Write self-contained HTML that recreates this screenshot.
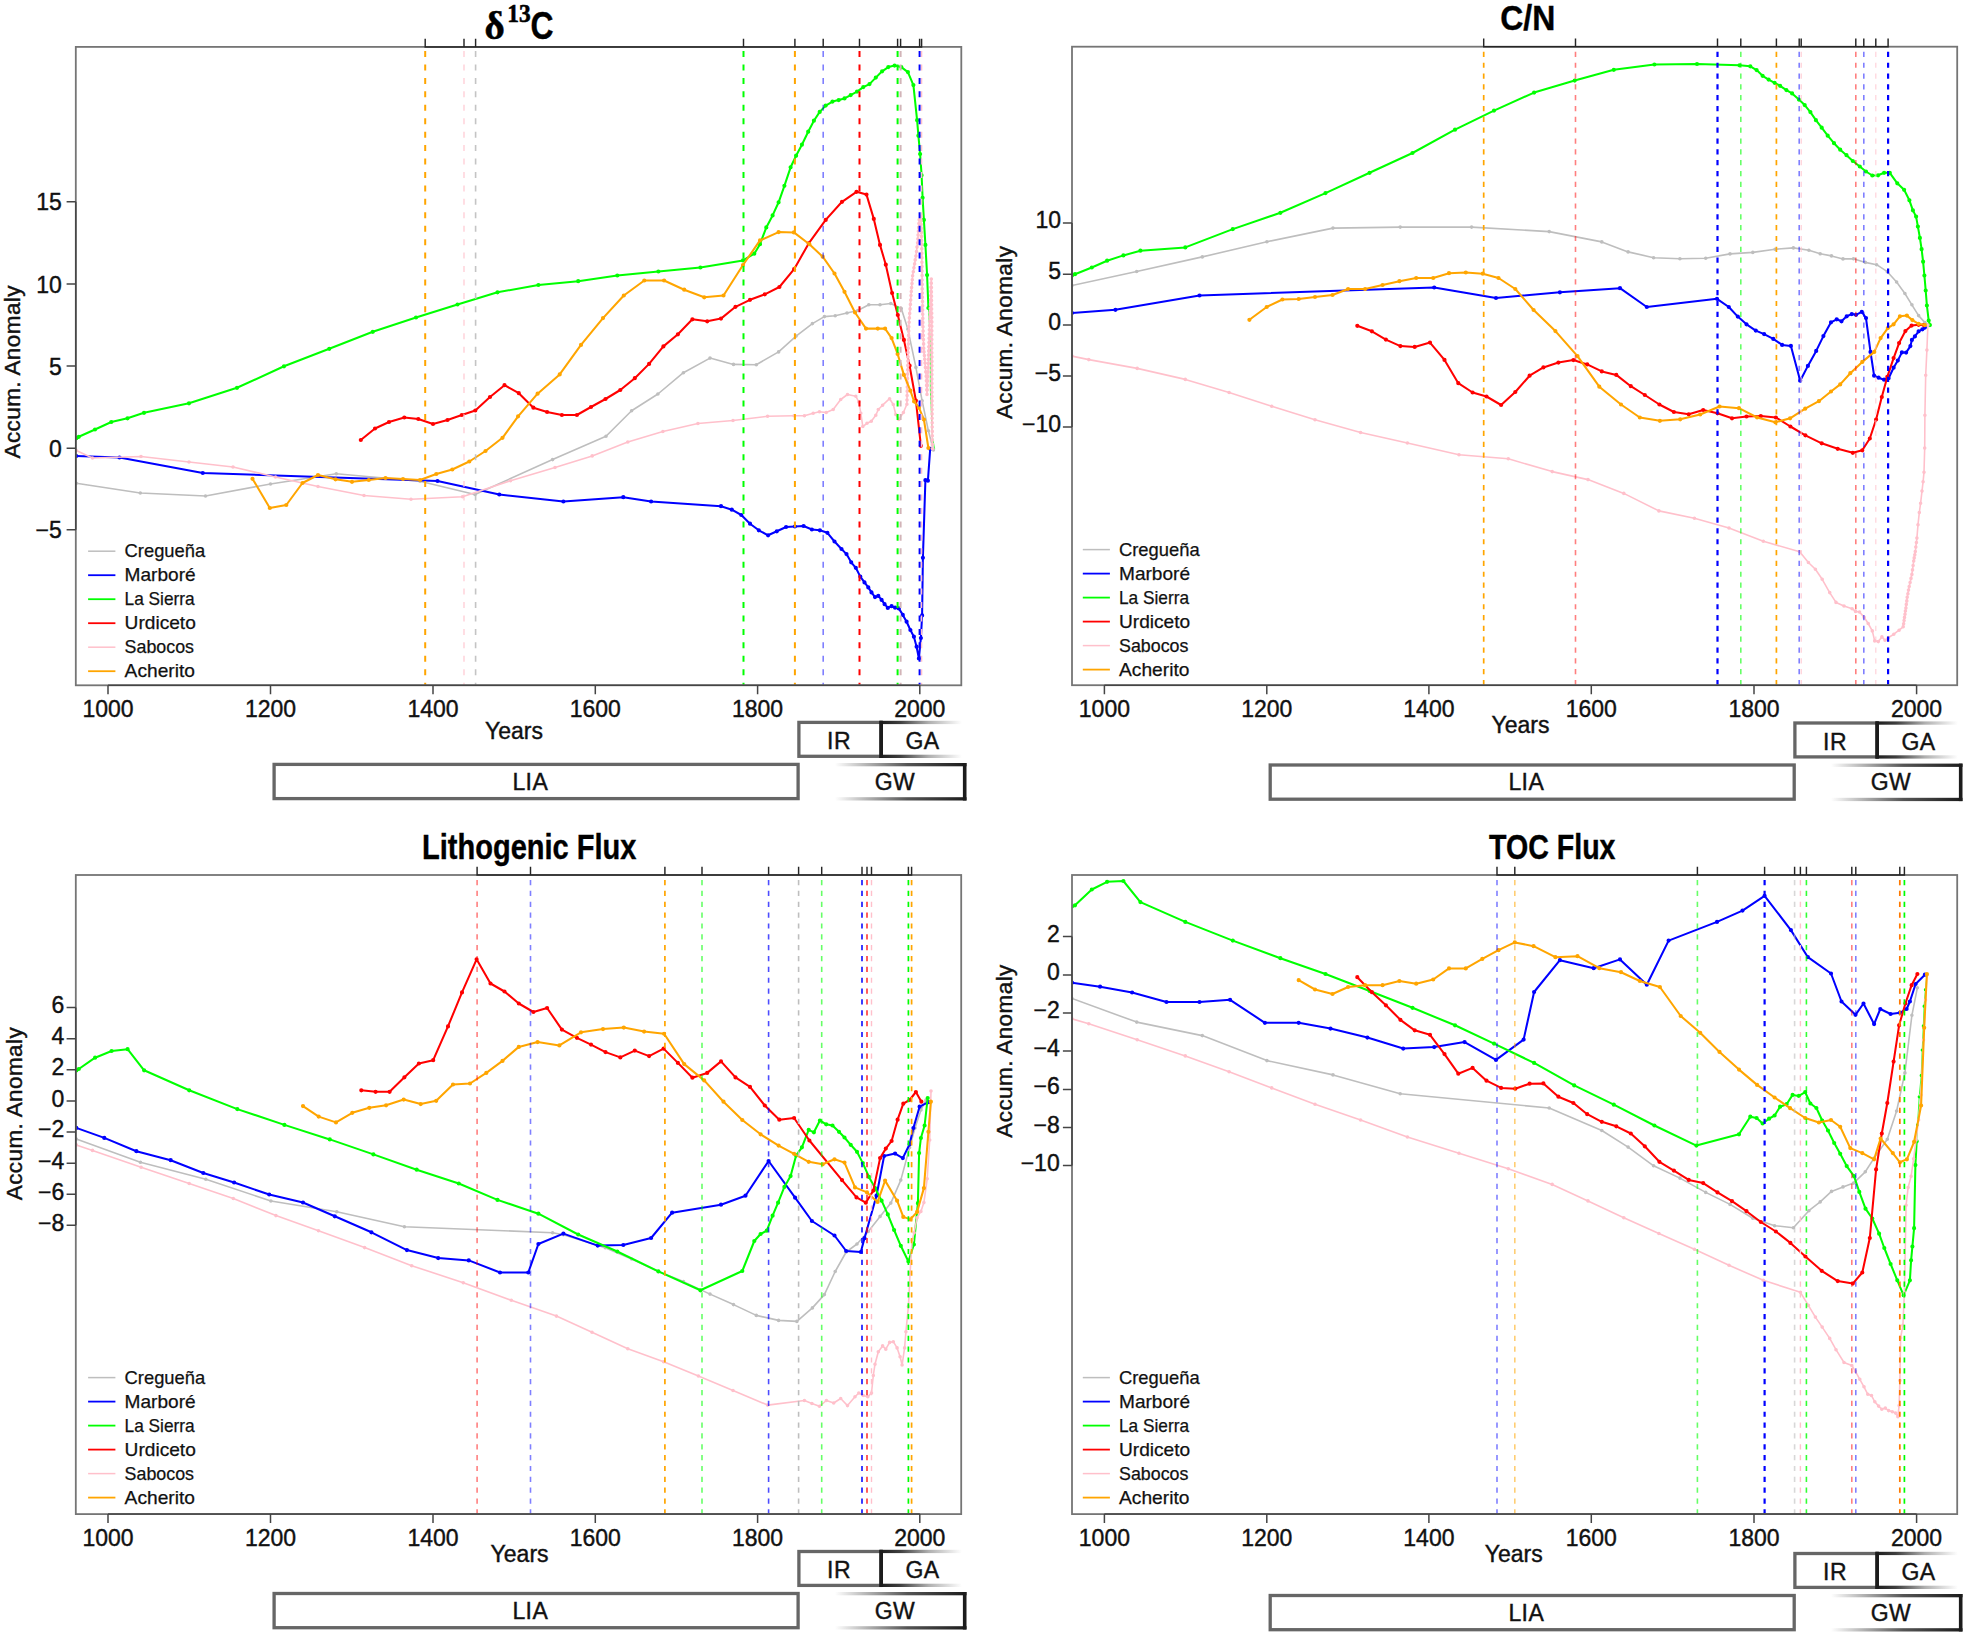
<!DOCTYPE html>
<html lang="en"><head><meta charset="utf-8"><title>Accumulated anomalies</title>
<style>html,body{margin:0;padding:0;background:#fff}svg{display:block}</style></head><body>
<svg width="1966" height="1637" viewBox="0 0 1966 1637">
<defs><linearGradient id="gr" x1="0" y1="0" x2="1" y2="0"><stop offset="0" stop-color="#1c1c1c"/><stop offset="0.25" stop-color="#1c1c1c" stop-opacity="0.85"/><stop offset="0.6" stop-color="#1c1c1c" stop-opacity="0.35"/><stop offset="1" stop-color="#1c1c1c" stop-opacity="0"/></linearGradient>
<linearGradient id="gl" x1="0" y1="0" x2="1" y2="0"><stop offset="0" stop-color="#1c1c1c" stop-opacity="0"/><stop offset="0.55" stop-color="#1c1c1c" stop-opacity="0.75"/><stop offset="1" stop-color="#1c1c1c"/></linearGradient></defs>
<rect width="1966" height="1637" fill="#fff"/>
<g id="p1">
<clipPath id="c1"><rect x="75.8" y="46.9" width="885.5" height="638.4"/></clipPath>
<g clip-path="url(#c1)" fill="none" stroke-linejoin="round" stroke-linecap="round">
<polyline points="928.4,308 930.3,342 930.3,389 932.4,437 934.6,448.5" stroke="#00ff00" stroke-width="0.9" stroke-opacity="0.8"/>
<polyline points="76.3,483.3 140.3,493 205.5,496 270.5,484 336.3,473.8 420,481.3 475,494.5 552.6,459.6 606,436.3 631.6,410.7 657.9,394 683.4,372.7 710,358.1 733.5,364.4 756.3,364.7 778.6,351.9 796.1,336.1 812.4,323.6 824.4,316.6 835.2,315.8 847,313 857.8,310.5 868.8,304.8 880,304.8 890.8,303.5 901.3,308.5 907.9,329.3 915.9,367.4 922.1,400.7 928.4,430.8 933.4,450" stroke="#bebebe" stroke-width="1.6"/>
<path d="M76.3 483.3h0M140.3 493h0M205.5 496h0M270.5 484h0M336.3 473.8h0M420 481.3h0M475 494.5h0M552.6 459.6h0M606 436.3h0M631.6 410.7h0M657.9 394h0M683.4 372.7h0M710 358.1h0M733.5 364.4h0M756.3 364.7h0M778.6 351.9h0M796.1 336.1h0M812.4 323.6h0M824.4 316.6h0M835.2 315.8h0M847 313h0M857.8 310.5h0M868.8 304.8h0M880 304.8h0M890.8 303.5h0M901.3 308.5h0M907.9 329.3h0M915.9 367.4h0M922.1 400.7h0M928.4 430.8h0M933.4 450h0" stroke="#bebebe" stroke-width="3.6"/>
<polyline points="76.3,456 119.5,457.5 202.8,473 437.5,481 499.3,494.5 563.4,501.5 623.3,497.2 651.1,501.5 721,506.2 731.8,509.7 741.3,515 750,523.7 758.8,530.3 768.1,535.3 776.8,531.3 786.1,527 794.9,526.5 803.6,526 811.9,529.5 819.9,530.3 827.4,532.8 834.5,541.5 841.5,549 846.5,554.1 851.2,562.3 855.8,567.8 860.3,576.6 864.5,582.4 868.3,587.4 871.5,592.4 875,597.1 878.3,595.9 881.6,599.9 884.6,604.2 887.8,607.9 891.6,606.2 895.1,607.7 898.8,608.4 902.8,614.9 906.6,621.7 910.4,630 913.9,636.7 916.6,646.7 918.9,658.5 920.9,638 922.1,615.4 922.9,557.8 925.4,480.2 927.9,480.7 930.2,448.8" stroke="#0000ff" stroke-width="2.05"/>
<path d="M76.3 456h0M119.5 457.5h0M202.8 473h0M437.5 481h0M499.3 494.5h0M563.4 501.5h0M623.3 497.2h0M651.1 501.5h0M721 506.2h0M731.8 509.7h0M741.3 515h0M750 523.7h0M758.8 530.3h0M768.1 535.3h0M776.8 531.3h0M786.1 527h0M794.9 526.5h0M803.6 526h0M811.9 529.5h0M819.9 530.3h0M827.4 532.8h0M834.5 541.5h0M841.5 549h0M846.5 554.1h0M851.2 562.3h0M855.8 567.8h0M860.3 576.6h0M864.5 582.4h0M868.3 587.4h0M871.5 592.4h0M875 597.1h0M878.3 595.9h0M881.6 599.9h0M884.6 604.2h0M887.8 607.9h0M891.6 606.2h0M895.1 607.7h0M898.8 608.4h0M902.8 614.9h0M906.6 621.7h0M910.4 630h0M913.9 636.7h0M916.6 646.7h0M918.9 658.5h0M920.9 638h0M922.1 615.4h0M922.9 557.8h0M925.4 480.2h0M927.9 480.7h0M930.2 448.8h0" stroke="#0000ff" stroke-width="4.2"/>
<polyline points="76.3,438.2 78.8,436.8 95,429.5 111.3,422 127.5,418.3 144,412.8 189,403.3 237,387.8 284,366.3 329.3,348.8 372.8,331.8 416,317.5 457.5,304.5 497.5,292.3 538.4,285 578.2,281.2 617.3,275.5 658.4,271.5 700.4,267.5 743,260.4 754.3,253.7 760,244.2 766.3,227.4 772.6,215.4 778.6,202.3 784.4,185.8 790.6,167.3 796.1,155.7 801.9,144.7 808.2,131.7 813.9,120.7 819.7,111.9 825.7,105.6 832.5,101.6 838.7,100.1 844.5,98.4 850.7,95.1 857,91.6 863.3,87.1 869.5,84.1 875.8,77.6 882.1,71.3 888.3,67.1 894.6,65.6 901.3,67.1 907.9,72.1 913.4,85.1 917.1,120.2 918.4,135.7 920.1,154 921.6,175.3 922.6,197.8 923.9,219.9 925.4,244.9 927.1,275 928.4,308" stroke="#00ff00" stroke-width="2.05"/>
<path d="M76.3 438.2h0M78.8 436.8h0M95 429.5h0M111.3 422h0M127.5 418.3h0M144 412.8h0M189 403.3h0M237 387.8h0M284 366.3h0M329.3 348.8h0M372.8 331.8h0M416 317.5h0M457.5 304.5h0M497.5 292.3h0M538.4 285h0M578.2 281.2h0M617.3 275.5h0M658.4 271.5h0M700.4 267.5h0M743 260.4h0M754.3 253.7h0M760 244.2h0M766.3 227.4h0M772.6 215.4h0M778.6 202.3h0M784.4 185.8h0M790.6 167.3h0M796.1 155.7h0M801.9 144.7h0M808.2 131.7h0M813.9 120.7h0M819.7 111.9h0M825.7 105.6h0M832.5 101.6h0M838.7 100.1h0M844.5 98.4h0M850.7 95.1h0M857 91.6h0M863.3 87.1h0M869.5 84.1h0M875.8 77.6h0M882.1 71.3h0M888.3 67.1h0M894.6 65.6h0M901.3 67.1h0M907.9 72.1h0M913.4 85.1h0M917.1 120.2h0M918.4 135.7h0M920.1 154h0M921.6 175.3h0M922.6 197.8h0M923.9 219.9h0M925.4 244.9h0M927.1 275h0M928.4 308h0" stroke="#00ff00" stroke-width="4.2"/>
<polyline points="360.8,440 375,428.5 389,422 404.3,417.5 418.3,419 433,424 447.5,420 461.8,415 475.3,410.5 490,397 504.5,385.2 518.8,393.2 533.4,407.7 547.1,412 561.9,415 576.9,415 591,407 605.5,399 620.3,390 634.8,378.2 649.1,363.9 663.4,346.4 677.9,334.3 692.4,319.3 707.2,321.3 721,318.6 735.5,306.8 750,299.8 764.8,294.3 779.4,287 794.1,269.2 808.7,243.4 825.7,219.9 842,201.8 856.5,191.8 866.5,194.6 873.8,218.9 880,244.9 885.8,264.7 892.1,293 897.8,315 903.9,339.9 909.6,365.7 915.9,400.7 920.9,445.8" stroke="#ff0000" stroke-width="2.05"/>
<path d="M360.8 440h0M375 428.5h0M389 422h0M404.3 417.5h0M418.3 419h0M433 424h0M447.5 420h0M461.8 415h0M475.3 410.5h0M490 397h0M504.5 385.2h0M518.8 393.2h0M533.4 407.7h0M547.1 412h0M561.9 415h0M576.9 415h0M591 407h0M605.5 399h0M620.3 390h0M634.8 378.2h0M649.1 363.9h0M663.4 346.4h0M677.9 334.3h0M692.4 319.3h0M707.2 321.3h0M721 318.6h0M735.5 306.8h0M750 299.8h0M764.8 294.3h0M779.4 287h0M794.1 269.2h0M808.7 243.4h0M825.7 219.9h0M842 201.8h0M856.5 191.8h0M866.5 194.6h0M873.8 218.9h0M880 244.9h0M885.8 264.7h0M892.1 293h0M897.8 315h0M903.9 339.9h0M909.6 365.7h0M915.9 400.7h0M920.9 445.8h0" stroke="#ff0000" stroke-width="4.2"/>
<polyline points="76.3,450.5 92.5,458 141,456.5 189,462 233,467 275.5,477 318,486.5 364,495.5 411,499.3 462.5,496.8 510.5,480.8 555,467.5 592.2,455.9 627.8,442 662.9,431.5 697.9,423.5 733,420.5 767.6,416.3 794.1,415.8 804.4,415.8 813.2,413.2 819.4,411.7 826.2,412.5 833.2,409.5 840.7,399.5 847.5,394.5 855.8,396.2 858.8,402 860.8,413.2 862.8,426.5 867,423.3 871.3,421.3 875.8,415.3 878.3,409.5 882.6,405.2 889.6,398.7 893.3,404.5 895.8,414.5 898.8,419.5 903.4,412.5 906.9,404.3 907.7,369.7 908.8,326.8 911,295.5 912.6,275.7 915.9,256 917.6,242.7 919.2,219.7 920.9,216.4 921.7,244.4 922.2,288.9 923,326.8 923.7,348.2 925,363 926.2,376.3 927,394.4 928,372 929.1,338.3 930.8,295.5 931.3,279 931.8,321.9 931.9,387.8 932.4,448.8" stroke="#ffc0cb" stroke-width="1.6"/>
<path d="M76.3 450.5h0M92.5 458h0M141 456.5h0M189 462h0M233 467h0M275.5 477h0M318 486.5h0M364 495.5h0M411 499.3h0M462.5 496.8h0M510.5 480.8h0M555 467.5h0M592.2 455.9h0M627.8 442h0M662.9 431.5h0M697.9 423.5h0M733 420.5h0M767.6 416.3h0M794.1 415.8h0M804.4 415.8h0M813.2 413.2h0M819.4 411.7h0M826.2 412.5h0M833.2 409.5h0M840.7 399.5h0M847.5 394.5h0M855.8 396.2h0M858.8 402h0M860.8 413.2h0M862.8 426.5h0M867 423.3h0M871.3 421.3h0M875.8 415.3h0M878.3 409.5h0M882.6 405.2h0M889.6 398.7h0M893.3 404.5h0M895.8 414.5h0M898.8 419.5h0M903.4 412.5h0M906.9 404.3h0M907 400h0M907.1 395.6h0M907.2 391.3h0M907.3 387h0M907.4 382.7h0M907.5 378.4h0M907.6 374h0M907.7 369.7h0M907.8 365.4h0M907.9 361.1h0M908 356.8h0M908.1 352.5h0M908.2 348.2h0M908.4 344h0M908.5 339.7h0M908.6 335.4h0M908.7 331.1h0M908.8 326.8h0M909.1 322.3h0M909.4 317.9h0M909.7 313.4h0M910.1 308.9h0M910.4 304.4h0M910.7 300h0M911 295.5h0M911.3 291.5h0M911.6 287.6h0M912 283.6h0M912.3 279.7h0M912.6 275.7h0M913.3 271.8h0M913.9 267.8h0M914.6 263.9h0M915.2 259.9h0M915.9 256h0M916.5 251.6h0M917 247.1h0M917.6 242.7h0M917.9 238.9h0M918.1 235h0M918.4 231.2h0M918.7 227.4h0M918.9 223.5h0M919.2 219.7h0M920.9 216.4h0M921 220.4h0M921.1 224.4h0M921.2 228.4h0M921.4 232.4h0M921.5 236.4h0M921.6 240.4h0M921.7 244.4h0M921.8 248.8h0M921.8 253.3h0M921.9 257.8h0M921.9 262.2h0M922 266.6h0M922 271.1h0M922.1 275.5h0M922.1 280h0M922.2 284.4h0M922.2 288.9h0M922.3 293.1h0M922.4 297.3h0M922.5 301.5h0M922.6 305.7h0M922.6 310h0M922.7 314.2h0M922.8 318.4h0M922.9 322.6h0M923 326.8h0M923.1 331.1h0M923.3 335.4h0M923.4 339.6h0M923.6 343.9h0M923.7 348.2h0M924 351.9h0M924.4 355.6h0M924.7 359.3h0M925 363h0M925.4 367.4h0M925.8 371.9h0M926.2 376.3h0M926.4 380.8h0M926.6 385.4h0M926.8 389.9h0M927 394.4h0M927.2 389.9h0M927.4 385.4h0M927.6 381h0M927.8 376.5h0M928 372h0M928.1 367.8h0M928.3 363.6h0M928.4 359.4h0M928.5 355.1h0M928.7 350.9h0M928.8 346.7h0M929 342.5h0M929.1 338.3h0M929.3 334h0M929.4 329.7h0M929.6 325.5h0M929.8 321.2h0M930 316.9h0M930.1 312.6h0M930.3 308.3h0M930.5 304.1h0M930.6 299.8h0M930.8 295.5h0M930.9 291.4h0M931 287.2h0M931.2 283.1h0M931.3 279h0M931.3 283.3h0M931.4 287.6h0M931.4 291.9h0M931.5 296.2h0M931.5 300.4h0M931.6 304.7h0M931.6 309h0M931.7 313.3h0M931.8 317.6h0M931.8 321.9h0M931.8 326.3h0M931.8 330.7h0M931.8 335.1h0M931.8 339.5h0M931.8 343.9h0M931.8 348.3h0M931.8 352.7h0M931.9 357h0M931.9 361.4h0M931.9 365.8h0M931.9 370.2h0M931.9 374.6h0M931.9 379h0M931.9 383.4h0M931.9 387.8h0M931.9 392.2h0M932 396.5h0M932 400.9h0M932 405.2h0M932.1 409.6h0M932.1 413.9h0M932.1 418.3h0M932.2 422.7h0M932.2 427h0M932.3 431.4h0M932.3 435.7h0M932.3 440.1h0M932.4 444.4h0M932.4 448.8h0" stroke="#ffc0cb" stroke-width="3.6"/>
<polyline points="252.5,478.8 269.8,508 286.3,505 302.5,483 318,475 335.5,479.3 352,481.8 368.8,480 385.5,478 403,479 420,480 436.3,474 452.3,469.5 469.3,461.5 485.5,451 502.5,437.8 518.1,416.3 537.6,393.7 559.7,374.4 581,344.9 603,318.1 623.8,295.5 644.3,280.5 664.1,280.5 684.2,289.7 704.2,297.3 723.5,295.5 743,265 760,240.4 778.6,232.1 793.9,232.4 809.4,244.2 822.7,256.7 834.5,273.5 844.5,291.8 855,312.5 866,328.6 877.8,328.6 885.1,328.6 891.6,338.1 897.6,353.9 903.9,374.9 910.4,390.7 914.1,401.5 918.9,407.7 923.9,419.5 928.4,448" stroke="#ffa500" stroke-width="2.05"/>
<path d="M252.5 478.8h0M269.8 508h0M286.3 505h0M302.5 483h0M318 475h0M335.5 479.3h0M352 481.8h0M368.8 480h0M385.5 478h0M403 479h0M420 480h0M436.3 474h0M452.3 469.5h0M469.3 461.5h0M485.5 451h0M502.5 437.8h0M518.1 416.3h0M537.6 393.7h0M559.7 374.4h0M581 344.9h0M603 318.1h0M623.8 295.5h0M644.3 280.5h0M664.1 280.5h0M684.2 289.7h0M704.2 297.3h0M723.5 295.5h0M743 265h0M760 240.4h0M778.6 232.1h0M793.9 232.4h0M809.4 244.2h0M822.7 256.7h0M834.5 273.5h0M844.5 291.8h0M855 312.5h0M866 328.6h0M877.8 328.6h0M885.1 328.6h0M891.6 338.1h0M897.6 353.9h0M903.9 374.9h0M910.4 390.7h0M914.1 401.5h0M918.9 407.7h0M923.9 419.5h0M928.4 448h0" stroke="#ffa500" stroke-width="4.2"/>
</g>
<g fill="none" stroke-dasharray="6 7.44">
<line x1="425.2" y1="51" x2="425.2" y2="684.8" stroke="#ffa500" stroke-opacity="1" stroke-width="2"/>
<line x1="464" y1="51" x2="464" y2="684.8" stroke="#ffc0cb" stroke-opacity="0.75" stroke-width="1.4"/>
<line x1="475.6" y1="51" x2="475.6" y2="684.8" stroke="#bebebe" stroke-opacity="0.9" stroke-width="1.6"/>
<line x1="743.5" y1="51" x2="743.5" y2="684.8" stroke="#00ff00" stroke-opacity="1" stroke-width="2"/>
<line x1="794.9" y1="51" x2="794.9" y2="684.8" stroke="#ffa500" stroke-opacity="1" stroke-width="2"/>
<line x1="823.2" y1="51" x2="823.2" y2="684.8" stroke="#0000ff" stroke-opacity="0.5" stroke-width="1.6"/>
<line x1="859.5" y1="51" x2="859.5" y2="684.8" stroke="#ff0000" stroke-opacity="1" stroke-width="2"/>
<line x1="897.6" y1="51" x2="897.6" y2="684.8" stroke="#00ff00" stroke-opacity="1" stroke-width="2"/>
<line x1="900.6" y1="51" x2="900.6" y2="684.8" stroke="#d2b4b8" stroke-opacity="1" stroke-width="2"/>
<line x1="919.6" y1="51" x2="919.6" y2="684.8" stroke="#0000ff" stroke-opacity="1" stroke-width="2"/>
<line x1="921.6" y1="51" x2="921.6" y2="684.8" stroke="#ffc0cb" stroke-opacity="1" stroke-width="1.4"/>
</g>
<rect x="75.8" y="46.9" width="885.5" height="638.4" fill="none" stroke="#757575" stroke-width="1.8"/>
<path d="M425.2 46.9H921.6M425.2 47.7v-9M464 47.7v-9M475.6 47.7v-9M743.5 47.7v-9M794.9 47.7v-9M823.2 47.7v-9M859.5 47.7v-9M897.6 47.7v-9M900.6 47.7v-9M919.6 47.7v-9M921.6 47.7v-9" fill="none" stroke="#262626" stroke-width="1.45"/>
<path d="M66.6 201.8H75.8M66.6 284H75.8M66.6 366H75.8M66.6 448.2H75.8M66.6 529.8H75.8M108 685.3v9M270.5 685.3v9M433 685.3v9M595.3 685.3v9M757.6 685.3v9M919.8 685.3v9M75.8 201.8V529.8M108 685.3H919.8" fill="none" stroke="#454545" stroke-width="1.5"/>
<g font-family="'Liberation Sans',Arial,Helvetica,sans-serif" font-size="23" fill="#111" stroke="#111" stroke-width="0.4">
<text x="61.8" y="210.3" text-anchor="end">15</text>
<text x="61.8" y="292.5" text-anchor="end">10</text>
<text x="61.8" y="374.5" text-anchor="end">5</text>
<text x="61.8" y="456.7" text-anchor="end">0</text>
<text x="61.8" y="538.3" text-anchor="end">−5</text>
<text x="108" y="717" text-anchor="middle">1000</text>
<text x="270.5" y="717" text-anchor="middle">1200</text>
<text x="433" y="717" text-anchor="middle">1400</text>
<text x="595.3" y="717" text-anchor="middle">1600</text>
<text x="757.6" y="717" text-anchor="middle">1800</text>
<text x="919.8" y="717" text-anchor="middle">2000</text>
</g>
<text transform="translate(20.4 372) rotate(-90)" font-family="'Liberation Sans',Arial,Helvetica,sans-serif" font-size="22.5" fill="#111" stroke="#111" stroke-width="0.4" text-anchor="middle" textLength="173" lengthAdjust="spacing">Accum. Anomaly</text>
<text x="514" y="739" font-family="'Liberation Sans',Arial,Helvetica,sans-serif" font-size="23" fill="#111" stroke="#111" stroke-width="0.4" text-anchor="middle">Years</text>
<line x1="88.1" y1="551.2" x2="115.4" y2="551.2" stroke="#bebebe" stroke-width="1.5"/>
<text x="124.6" y="557.2" font-family="'Liberation Sans',Arial,Helvetica,sans-serif" font-size="18.4" fill="#111" stroke="#111" stroke-width="0.25" textLength="80.6" lengthAdjust="spacingAndGlyphs">Cregueña</text>
<line x1="88.1" y1="575.2" x2="115.4" y2="575.2" stroke="#0000ff" stroke-width="1.8"/>
<text x="124.6" y="581.2" font-family="'Liberation Sans',Arial,Helvetica,sans-serif" font-size="18.4" fill="#111" stroke="#111" stroke-width="0.25" textLength="71" lengthAdjust="spacingAndGlyphs">Marboré</text>
<line x1="88.1" y1="599.2" x2="115.4" y2="599.2" stroke="#00ff00" stroke-width="1.8"/>
<text x="124.6" y="605.2" font-family="'Liberation Sans',Arial,Helvetica,sans-serif" font-size="18.4" fill="#111" stroke="#111" stroke-width="0.25" textLength="70" lengthAdjust="spacingAndGlyphs">La Sierra</text>
<line x1="88.1" y1="623.2" x2="115.4" y2="623.2" stroke="#ff0000" stroke-width="1.8"/>
<text x="124.6" y="629.2" font-family="'Liberation Sans',Arial,Helvetica,sans-serif" font-size="18.4" fill="#111" stroke="#111" stroke-width="0.25" textLength="71.2" lengthAdjust="spacingAndGlyphs">Urdiceto</text>
<line x1="88.1" y1="647.2" x2="115.4" y2="647.2" stroke="#ffc0cb" stroke-width="1.5"/>
<text x="124.6" y="653.2" font-family="'Liberation Sans',Arial,Helvetica,sans-serif" font-size="18.4" fill="#111" stroke="#111" stroke-width="0.25" textLength="69.4" lengthAdjust="spacingAndGlyphs">Sabocos</text>
<line x1="88.1" y1="671.2" x2="115.4" y2="671.2" stroke="#ffa500" stroke-width="1.8"/>
<text x="124.6" y="677.2" font-family="'Liberation Sans',Arial,Helvetica,sans-serif" font-size="18.4" fill="#111" stroke="#111" stroke-width="0.25" textLength="70.4" lengthAdjust="spacingAndGlyphs">Acherito</text>
<rect x="798.9" y="722.4" width="81.9" height="33.9" fill="none" stroke="#666" stroke-width="3.3"/>
<rect x="274.1" y="764.4" width="524" height="34.2" fill="none" stroke="#666" stroke-width="3.3"/>
<rect x="879.4" y="720.8" width="82.5" height="3.3" fill="url(#gr)"/>
<rect x="879.4" y="754.7" width="82.5" height="3.3" fill="url(#gr)"/>
<rect x="879.4" y="720.8" width="3.5999999999999996" height="37.2" fill="#1c1c1c"/>
<rect x="835" y="763" width="131.5" height="3.3" fill="url(#gl)"/>
<rect x="835" y="797.2" width="131.5" height="3.3" fill="url(#gl)"/>
<rect x="962.9" y="763" width="3.5999999999999996" height="37.5" fill="#1c1c1c"/>
<g font-family="'Liberation Sans',Arial,Helvetica,sans-serif" font-size="23" fill="#111" stroke="#111" stroke-width="0.4" text-anchor="middle" letter-spacing="0.4">
<text x="839" y="749.4">IR</text>
<text x="922.4" y="749.4">GA</text>
<text x="530.3" y="789.7">LIA</text>
<text x="894.9" y="789.7">GW</text>
</g>
<g font-weight="bold" fill="#000"><text x="484.5" y="38.7" font-family="'Liberation Serif','Times New Roman',serif" font-size="39" stroke="#000" stroke-width="0.5">δ</text><text x="507.3" y="21.9" font-family="'Liberation Serif','Times New Roman',serif" font-size="25.5" textLength="23.4" lengthAdjust="spacingAndGlyphs" stroke="#000" stroke-width="0.6">13</text><text x="530.6" y="38.7" font-family="'Liberation Sans',Arial,Helvetica,sans-serif" font-size="38" textLength="23" lengthAdjust="spacingAndGlyphs" stroke="#000" stroke-width="0.4">C</text></g>
</g>
<g id="p2">
<clipPath id="c2"><rect x="1072" y="46.7" width="885.2" height="638.5"/></clipPath>
<g clip-path="url(#c2)" fill="none" stroke-linejoin="round" stroke-linecap="round">
<polyline points="1072,285.5 1136.7,271.5 1202.3,256.9 1266.9,241.7 1333,228.1 1400.2,227.1 1471.6,227.1 1549.2,231.6 1601.8,241.9 1628.1,251.9 1653.6,257.7 1679.9,258.7 1705.7,258.2 1730,253.9 1752.8,252.4 1775.1,249.2 1793.4,247.9 1808.9,250.2 1820.2,253.7 1831.5,255.9 1843,258.9 1853.5,258.7 1865.3,262.4 1876.6,264.7 1887.3,271.7 1896.6,282 1904.9,293.5 1911.9,304.8 1918.6,315.6 1924.9,322.6 1929.4,325.1" stroke="#bebebe" stroke-width="1.6"/>
<path d="M1072 285.5h0M1136.7 271.5h0M1202.3 256.9h0M1266.9 241.7h0M1333 228.1h0M1400.2 227.1h0M1471.6 227.1h0M1549.2 231.6h0M1601.8 241.9h0M1628.1 251.9h0M1653.6 257.7h0M1679.9 258.7h0M1705.7 258.2h0M1730 253.9h0M1752.8 252.4h0M1775.1 249.2h0M1793.4 247.9h0M1808.9 250.2h0M1820.2 253.7h0M1831.5 255.9h0M1843 258.9h0M1853.5 258.7h0M1865.3 262.4h0M1876.6 264.7h0M1887.3 271.7h0M1896.6 282h0M1904.9 293.5h0M1911.9 304.8h0M1918.6 315.6h0M1924.9 322.6h0M1929.4 325.1h0" stroke="#bebebe" stroke-width="3.6"/>
<polyline points="1072,313 1115.4,309.8 1199.5,295.5 1434.2,287.5 1496,298 1559.9,292.3 1620,288.2 1646.8,307 1717,298.8 1728.8,307 1737.8,316.6 1746.5,324.3 1755.8,330.6 1764.1,334.1 1773.3,338.9 1782.1,344.9 1790.9,345.9 1800.2,380.7 1807.9,365.9 1816.2,350.9 1823.4,336.1 1831,322.3 1836.7,319.3 1841.5,321.3 1846.7,316.3 1851.8,314.1 1856,314.8 1861.8,311.8 1866,318.1 1870.5,351.9 1874.1,375.7 1878.6,377.7 1884.1,379.7 1888.6,378.2 1893.6,367.7 1897.8,360.6 1901.9,352.4 1906.1,352.6 1910.4,346.1 1911.9,339.9 1914.9,336.4 1918.6,331.3 1922.4,329.3 1924.9,327.6" stroke="#0000ff" stroke-width="2.05"/>
<path d="M1072 313h0M1115.4 309.8h0M1199.5 295.5h0M1434.2 287.5h0M1496 298h0M1559.9 292.3h0M1620 288.2h0M1646.8 307h0M1717 298.8h0M1728.8 307h0M1737.8 316.6h0M1746.5 324.3h0M1755.8 330.6h0M1764.1 334.1h0M1773.3 338.9h0M1782.1 344.9h0M1790.9 345.9h0M1800.2 380.7h0M1807.9 365.9h0M1816.2 350.9h0M1823.4 336.1h0M1831 322.3h0M1836.7 319.3h0M1841.5 321.3h0M1846.7 316.3h0M1851.8 314.1h0M1856 314.8h0M1861.8 311.8h0M1866 318.1h0M1870.5 351.9h0M1874.1 375.7h0M1878.6 377.7h0M1884.1 379.7h0M1888.6 378.2h0M1893.6 367.7h0M1897.8 360.6h0M1901.9 352.4h0M1906.1 352.6h0M1910.4 346.1h0M1911.9 339.9h0M1914.9 336.4h0M1918.6 331.3h0M1922.4 329.3h0M1924.9 327.6h0" stroke="#0000ff" stroke-width="4.2"/>
<polyline points="1072,275.5 1075,274.2 1091.8,267.5 1107.1,260.7 1123.4,255.4 1140.4,250.7 1185.3,247.4 1232.8,229.1 1280.4,212.8 1325.5,193.1 1369.6,172.8 1412.5,153 1455,129.7 1494,110.6 1534.1,92.6 1574.7,80.6 1613.8,69.8 1654.4,64.5 1697,64 1739.5,65.3 1750.3,66.3 1756.6,70.1 1762.6,75.8 1768.6,79.6 1774.6,82.8 1780.1,85.8 1786.4,90.1 1792.1,93.4 1798.9,99.6 1804.7,105.1 1810.4,112.1 1815.9,120.2 1821.7,127.7 1827.7,135.7 1834,143.2 1840.2,149.7 1846.5,155.2 1852.8,161 1859.8,166.5 1866,171.5 1872.3,175.5 1878.1,175.3 1884.1,172.8 1889.8,172.8 1897.3,183.3 1904.1,189.8 1909.4,200.3 1912.9,210.3 1916.1,216.6 1917.9,226.6 1919.9,237.9 1921.6,249.2 1923.1,261.7 1924.4,275.5 1925.7,290.5 1926.9,305.5 1928.7,320.6 1929.9,325.1" stroke="#00ff00" stroke-width="2.05"/>
<path d="M1072 275.5h0M1075 274.2h0M1091.8 267.5h0M1107.1 260.7h0M1123.4 255.4h0M1140.4 250.7h0M1185.3 247.4h0M1232.8 229.1h0M1280.4 212.8h0M1325.5 193.1h0M1369.6 172.8h0M1412.5 153h0M1455 129.7h0M1494 110.6h0M1534.1 92.6h0M1574.7 80.6h0M1613.8 69.8h0M1654.4 64.5h0M1697 64h0M1739.5 65.3h0M1750.3 66.3h0M1756.6 70.1h0M1762.6 75.8h0M1768.6 79.6h0M1774.6 82.8h0M1780.1 85.8h0M1786.4 90.1h0M1792.1 93.4h0M1798.9 99.6h0M1804.7 105.1h0M1810.4 112.1h0M1815.9 120.2h0M1821.7 127.7h0M1827.7 135.7h0M1834 143.2h0M1840.2 149.7h0M1846.5 155.2h0M1852.8 161h0M1859.8 166.5h0M1866 171.5h0M1872.3 175.5h0M1878.1 175.3h0M1884.1 172.8h0M1889.8 172.8h0M1897.3 183.3h0M1904.1 189.8h0M1909.4 200.3h0M1912.9 210.3h0M1916.1 216.6h0M1917.9 226.6h0M1919.9 237.9h0M1921.6 249.2h0M1923.1 261.7h0M1924.4 275.5h0M1925.7 290.5h0M1926.9 305.5h0M1928.7 320.6h0M1929.9 325.1h0" stroke="#00ff00" stroke-width="4.2"/>
<polyline points="1357.3,325.8 1371.9,331.3 1385.9,339.6 1400.4,346.1 1414.7,346.9 1430,342.6 1444.5,359.9 1458.3,383.2 1472.6,392.5 1486.5,396.5 1501.1,405 1515.3,392 1529.6,375.7 1543.4,367.4 1558.4,362.6 1573.4,360.1 1587.2,364.4 1601.8,371.4 1616.3,374.9 1630.8,386.2 1644.8,395 1659.4,404.5 1673.9,412 1688.7,414.3 1703.2,410 1717.5,413.3 1732,418.3 1746.5,416.5 1760.8,416 1775.9,417.5 1790.4,426.5 1805.4,435.3 1821.7,443.3 1837.7,448.8 1852.8,452.8 1862.3,450.3 1869.8,438.5 1876.1,419.5 1881.8,397 1887.3,376.9 1893.6,358.1 1899.1,343.1 1905.4,331.1 1911.6,325.6 1918.6,324.8 1923.7,325.1" stroke="#ff0000" stroke-width="2.05"/>
<path d="M1357.3 325.8h0M1371.9 331.3h0M1385.9 339.6h0M1400.4 346.1h0M1414.7 346.9h0M1430 342.6h0M1444.5 359.9h0M1458.3 383.2h0M1472.6 392.5h0M1486.5 396.5h0M1501.1 405h0M1515.3 392h0M1529.6 375.7h0M1543.4 367.4h0M1558.4 362.6h0M1573.4 360.1h0M1587.2 364.4h0M1601.8 371.4h0M1616.3 374.9h0M1630.8 386.2h0M1644.8 395h0M1659.4 404.5h0M1673.9 412h0M1688.7 414.3h0M1703.2 410h0M1717.5 413.3h0M1732 418.3h0M1746.5 416.5h0M1760.8 416h0M1775.9 417.5h0M1790.4 426.5h0M1805.4 435.3h0M1821.7 443.3h0M1837.7 448.8h0M1852.8 452.8h0M1862.3 450.3h0M1869.8 438.5h0M1876.1 419.5h0M1881.8 397h0M1887.3 376.9h0M1893.6 358.1h0M1899.1 343.1h0M1905.4 331.1h0M1911.6 325.6h0M1918.6 324.8h0M1923.7 325.1h0" stroke="#ff0000" stroke-width="4.2"/>
<polyline points="1072,356.1 1088.8,359.6 1137.2,368.4 1185.3,379.4 1229.1,392.5 1271.7,406.2 1315,419.8 1360.6,432.5 1407.4,443 1459,454.8 1508.3,458.8 1552.2,471.6 1588,479.6 1623.8,493.4 1658.9,510.9 1694.4,518.2 1729,528 1763.3,541.2 1799.7,551.8 1808.4,562.5 1815.4,569.3 1822.2,579.3 1829.7,592.6 1836,602.4 1844,606 1852.1,608.7 1855.5,611.4 1859.5,612 1864.2,617.4 1868.2,623.5 1872.3,630.9 1874.7,640.9 1878.3,641.6 1881.9,636.9 1885,640.3 1888.4,637.6 1893.8,634.2 1899.1,630.2 1903.2,626.8 1904.5,617.4 1905.9,608 1907.2,597.3 1909.2,586.5 1911.9,574.4 1913.7,561 1915.3,551.6 1916.9,538.1 1918,524.7 1919.3,512.6 1920.6,503.2 1922,491.1 1923.1,481.7 1924,472.3 1924.7,448.1 1924.9,415.2 1925.7,375.2 1926.9,350.1 1927.9,325" stroke="#ffc0cb" stroke-width="1.6"/>
<path d="M1072 356.1h0M1088.8 359.6h0M1137.2 368.4h0M1185.3 379.4h0M1229.1 392.5h0M1271.7 406.2h0M1315 419.8h0M1360.6 432.5h0M1407.4 443h0M1459 454.8h0M1508.3 458.8h0M1552.2 471.6h0M1588 479.6h0M1623.8 493.4h0M1658.9 510.9h0M1694.4 518.2h0M1729 528h0M1763.3 541.2h0M1799.7 551.8h0M1808.4 562.5h0M1815.4 569.3h0M1822.2 579.3h0M1829.7 592.6h0M1836 602.4h0M1844 606h0M1852.1 608.7h0M1855.5 611.4h0M1859.5 612h0M1864.2 617.4h0M1868.2 623.5h0M1872.3 630.9h0M1874.7 640.9h0M1878.3 641.6h0M1881.9 636.9h0M1885 640.3h0M1888.4 637.6h0M1893.8 634.2h0M1899.1 630.2h0M1903.2 626.8h0M1903.6 623.7h0M1904.1 620.5h0M1904.5 617.4h0M1905 614.3h0M1905.4 611.1h0M1905.9 608h0M1906.3 604.4h0M1906.8 600.9h0M1907.2 597.3h0M1907.9 593.7h0M1908.5 590.1h0M1909.2 586.5h0M1910.1 582.5h0M1911 578.4h0M1911.9 574.4h0M1912.5 569.9h0M1913.1 565.5h0M1913.7 561h0M1914.2 557.9h0M1914.8 554.7h0M1915.3 551.6h0M1915.8 547.1h0M1916.4 542.6h0M1916.9 538.1h0M1918 524.7h0M1919.3 512.6h0M1920.6 503.2h0M1922 491.1h0M1923.1 481.7h0M1924 472.3h0M1924.7 448.1h0M1924.9 415.2h0M1925.7 375.2h0M1926.9 350.1h0M1927.9 325h0" stroke="#ffc0cb" stroke-width="3.6"/>
<polyline points="1249.4,319.8 1266.7,307 1282.4,299.5 1298.7,299 1315,297 1332.5,295 1348.1,289 1365.1,289 1382.6,285 1399.4,281.2 1416.2,278 1433.2,278 1449,273.2 1465.8,272.5 1482.8,273.7 1498.5,278 1515.3,289 1533.6,310 1555.4,331.1 1577.5,356.1 1599.3,386.7 1621,404.5 1639.8,417.5 1659.9,420.8 1680.2,419.3 1700.2,414.5 1719.5,406.5 1739,408.2 1757.1,417.5 1775.4,422.3 1790.1,418.3 1805.2,408.7 1818.9,401.2 1831,391.5 1840.2,384.4 1850.3,373.2 1862.3,361.9 1874.3,351.9 1880.6,338.1 1887.8,328.1 1893.6,324.3 1899.9,316.3 1906.9,315.6 1912.4,320.1 1918.6,323.8 1924.9,325.1" stroke="#ffa500" stroke-width="2.05"/>
<path d="M1249.4 319.8h0M1266.7 307h0M1282.4 299.5h0M1298.7 299h0M1315 297h0M1332.5 295h0M1348.1 289h0M1365.1 289h0M1382.6 285h0M1399.4 281.2h0M1416.2 278h0M1433.2 278h0M1449 273.2h0M1465.8 272.5h0M1482.8 273.7h0M1498.5 278h0M1515.3 289h0M1533.6 310h0M1555.4 331.1h0M1577.5 356.1h0M1599.3 386.7h0M1621 404.5h0M1639.8 417.5h0M1659.9 420.8h0M1680.2 419.3h0M1700.2 414.5h0M1719.5 406.5h0M1739 408.2h0M1757.1 417.5h0M1775.4 422.3h0M1790.1 418.3h0M1805.2 408.7h0M1818.9 401.2h0M1831 391.5h0M1840.2 384.4h0M1850.3 373.2h0M1862.3 361.9h0M1874.3 351.9h0M1880.6 338.1h0M1887.8 328.1h0M1893.6 324.3h0M1899.9 316.3h0M1906.9 315.6h0M1912.4 320.1h0M1918.6 323.8h0M1924.9 325.1h0" stroke="#ffa500" stroke-width="4.2"/>
</g>
<g fill="none" stroke-dasharray="5.2 5.63">
<line x1="1483.7" y1="51.8" x2="1483.7" y2="684.7" stroke="#ffa500" stroke-opacity="1" stroke-width="1.7"/>
<line x1="1575.5" y1="51.8" x2="1575.5" y2="684.7" stroke="#ff0000" stroke-opacity="0.5" stroke-width="1.6"/>
<line x1="1717.5" y1="51.8" x2="1717.5" y2="684.7" stroke="#0000ff" stroke-opacity="1" stroke-width="2.2"/>
<line x1="1740.8" y1="51.8" x2="1740.8" y2="684.7" stroke="#00ff00" stroke-opacity="0.6" stroke-width="1.6"/>
<line x1="1776.4" y1="51.8" x2="1776.4" y2="684.7" stroke="#ffa500" stroke-opacity="1" stroke-width="1.7"/>
<line x1="1799.2" y1="51.8" x2="1799.2" y2="684.7" stroke="#0000ff" stroke-opacity="0.5" stroke-width="1.6"/>
<line x1="1801.2" y1="51.8" x2="1801.2" y2="684.7" stroke="#ffc0cb" stroke-opacity="0.8" stroke-width="1.2"/>
<line x1="1855.8" y1="51.8" x2="1855.8" y2="684.7" stroke="#ff0000" stroke-opacity="0.5" stroke-width="1.6"/>
<line x1="1863.8" y1="51.8" x2="1863.8" y2="684.7" stroke="#0000ff" stroke-opacity="0.5" stroke-width="1.6"/>
<line x1="1875.8" y1="51.8" x2="1875.8" y2="684.7" stroke="#ffc0cb" stroke-opacity="0.7" stroke-width="1.2"/>
<line x1="1888.1" y1="51.8" x2="1888.1" y2="684.7" stroke="#0000ff" stroke-opacity="1" stroke-width="2.2"/>
</g>
<rect x="1072" y="46.7" width="885.2" height="638.5" fill="none" stroke="#757575" stroke-width="1.8"/>
<path d="M1483.7 46.7H1888.1M1483.7 47.5v-9M1575.5 47.5v-9M1717.5 47.5v-9M1740.8 47.5v-9M1776.4 47.5v-9M1799.2 47.5v-9M1801.2 47.5v-9M1855.8 47.5v-9M1863.8 47.5v-9M1875.8 47.5v-9M1888.1 47.5v-9" fill="none" stroke="#262626" stroke-width="1.45"/>
<path d="M1062.9 223H1072M1062.9 274.3H1072M1062.9 325H1072M1062.9 376H1072M1062.9 427H1072M1104.4 685.2v9M1266.8 685.2v9M1428.9 685.2v9M1591.3 685.2v9M1754 685.2v9M1916.6 685.2v9M1072 223V427M1104.4 685.2H1916.6" fill="none" stroke="#454545" stroke-width="1.5"/>
<g font-family="'Liberation Sans',Arial,Helvetica,sans-serif" font-size="23" fill="#111" stroke="#111" stroke-width="0.4">
<text x="1061" y="227.8" text-anchor="end">10</text>
<text x="1061" y="279.1" text-anchor="end">5</text>
<text x="1061" y="329.8" text-anchor="end">0</text>
<text x="1061" y="380.8" text-anchor="end">−5</text>
<text x="1061" y="431.8" text-anchor="end">−10</text>
<text x="1104.4" y="717" text-anchor="middle">1000</text>
<text x="1266.8" y="717" text-anchor="middle">1200</text>
<text x="1428.9" y="717" text-anchor="middle">1400</text>
<text x="1591.3" y="717" text-anchor="middle">1600</text>
<text x="1754" y="717" text-anchor="middle">1800</text>
<text x="1916.6" y="717" text-anchor="middle">2000</text>
</g>
<text transform="translate(1012 332.6) rotate(-90)" font-family="'Liberation Sans',Arial,Helvetica,sans-serif" font-size="22.5" fill="#111" stroke="#111" stroke-width="0.4" text-anchor="middle" textLength="173" lengthAdjust="spacing">Accum. Anomaly</text>
<text x="1520.5" y="732.6" font-family="'Liberation Sans',Arial,Helvetica,sans-serif" font-size="23" fill="#111" stroke="#111" stroke-width="0.4" text-anchor="middle">Years</text>
<line x1="1082.8" y1="549.6" x2="1109.9" y2="549.6" stroke="#bebebe" stroke-width="1.5"/>
<text x="1119" y="555.6" font-family="'Liberation Sans',Arial,Helvetica,sans-serif" font-size="18.4" fill="#111" stroke="#111" stroke-width="0.25" textLength="80.6" lengthAdjust="spacingAndGlyphs">Cregueña</text>
<line x1="1082.8" y1="573.6" x2="1109.9" y2="573.6" stroke="#0000ff" stroke-width="1.8"/>
<text x="1119" y="579.6" font-family="'Liberation Sans',Arial,Helvetica,sans-serif" font-size="18.4" fill="#111" stroke="#111" stroke-width="0.25" textLength="71" lengthAdjust="spacingAndGlyphs">Marboré</text>
<line x1="1082.8" y1="597.6" x2="1109.9" y2="597.6" stroke="#00ff00" stroke-width="1.8"/>
<text x="1119" y="603.6" font-family="'Liberation Sans',Arial,Helvetica,sans-serif" font-size="18.4" fill="#111" stroke="#111" stroke-width="0.25" textLength="70" lengthAdjust="spacingAndGlyphs">La Sierra</text>
<line x1="1082.8" y1="621.6" x2="1109.9" y2="621.6" stroke="#ff0000" stroke-width="1.8"/>
<text x="1119" y="627.6" font-family="'Liberation Sans',Arial,Helvetica,sans-serif" font-size="18.4" fill="#111" stroke="#111" stroke-width="0.25" textLength="71.2" lengthAdjust="spacingAndGlyphs">Urdiceto</text>
<line x1="1082.8" y1="645.6" x2="1109.9" y2="645.6" stroke="#ffc0cb" stroke-width="1.5"/>
<text x="1119" y="651.6" font-family="'Liberation Sans',Arial,Helvetica,sans-serif" font-size="18.4" fill="#111" stroke="#111" stroke-width="0.25" textLength="69.4" lengthAdjust="spacingAndGlyphs">Sabocos</text>
<line x1="1082.8" y1="669.6" x2="1109.9" y2="669.6" stroke="#ffa500" stroke-width="1.8"/>
<text x="1119" y="675.6" font-family="'Liberation Sans',Arial,Helvetica,sans-serif" font-size="18.4" fill="#111" stroke="#111" stroke-width="0.25" textLength="70.4" lengthAdjust="spacingAndGlyphs">Acherito</text>
<rect x="1794.9" y="723" width="81.9" height="33.9" fill="none" stroke="#666" stroke-width="3.3"/>
<rect x="1270.2" y="765" width="524" height="34.2" fill="none" stroke="#666" stroke-width="3.3"/>
<rect x="1875.4" y="721.4" width="82.5" height="3.3" fill="url(#gr)"/>
<rect x="1875.4" y="755.3" width="82.5" height="3.3" fill="url(#gr)"/>
<rect x="1875.4" y="721.4" width="3.5999999999999996" height="37.2" fill="#1c1c1c"/>
<rect x="1831" y="763.6" width="131.5" height="3.3" fill="url(#gl)"/>
<rect x="1831" y="797.8" width="131.5" height="3.3" fill="url(#gl)"/>
<rect x="1958.9" y="763.6" width="3.5999999999999996" height="37.5" fill="#1c1c1c"/>
<g font-family="'Liberation Sans',Arial,Helvetica,sans-serif" font-size="23" fill="#111" stroke="#111" stroke-width="0.4" text-anchor="middle" letter-spacing="0.4">
<text x="1835" y="750">IR</text>
<text x="1918.4" y="750">GA</text>
<text x="1526.3" y="790.3">LIA</text>
<text x="1890.9" y="790.3">GW</text>
</g>
<text x="1500.3" y="29.8" font-family="'Liberation Sans',Arial,Helvetica,sans-serif" font-weight="bold" font-size="34.5" fill="#000" stroke="#000" stroke-width="0.4" textLength="55" lengthAdjust="spacingAndGlyphs">C/N</text>
</g>
<g id="p3">
<clipPath id="c3"><rect x="75.8" y="875" width="885.4" height="639.1"/></clipPath>
<g clip-path="url(#c3)" fill="none" stroke-linejoin="round" stroke-linecap="round">
<polyline points="76.3,1139.1 140.4,1162.2 205.8,1179.2 270.9,1201 336.8,1211.8 404.4,1226.8 552.6,1232.7 563.4,1234.7 605.3,1247.7 631.6,1259 658.4,1271.5 683.4,1281.6 710,1294.1 733.5,1304.6 756.3,1315.4 778.6,1320.4 796.9,1321.4 812.4,1307.9 824.4,1294.6 835.2,1271.5 846.2,1252 857,1244 868.3,1231.5 880.1,1216.4 890.8,1203.1 900.8,1180.1 909.6,1147.5 915,1128 921,1110 926,1100" stroke="#bebebe" stroke-width="1.6"/>
<path d="M76.3 1139.1h0M140.4 1162.2h0M205.8 1179.2h0M270.9 1201h0M336.8 1211.8h0M404.4 1226.8h0M552.6 1232.7h0M563.4 1234.7h0M605.3 1247.7h0M631.6 1259h0M658.4 1271.5h0M683.4 1281.6h0M710 1294.1h0M733.5 1304.6h0M756.3 1315.4h0M778.6 1320.4h0M796.9 1321.4h0M812.4 1307.9h0M824.4 1294.6h0M835.2 1271.5h0M846.2 1252h0M857 1244h0M868.3 1231.5h0M880.1 1216.4h0M890.8 1203.1h0M900.8 1180.1h0M909.6 1147.5h0M915 1128h0M921 1110h0M926 1100h0" stroke="#bebebe" stroke-width="3.6"/>
<polyline points="76.3,1127.9 104.3,1137.9 136.4,1151.2 170.7,1160.2 203.3,1173 234.1,1182.5 269.2,1194.5 303,1202.5 334.8,1216.3 371.4,1232.3 406.9,1250.1 438.2,1258.1 468.8,1260.4 500,1272.5 528.3,1272.5 538.4,1244 563.4,1233.6 597.7,1245.6 623.3,1245 651.1,1238 672.1,1212.7 721,1204.7 745.5,1195.7 768.6,1161 795.1,1197.7 811.9,1221 834.5,1235.5 846.2,1251 860.8,1252 864.5,1238.2 876.5,1195.7 884.1,1156.1 895.1,1153.6 902.8,1158.1 909.6,1144.3 913.4,1128 919.6,1106.7 928.4,1102.2" stroke="#0000ff" stroke-width="2.05"/>
<path d="M76.3 1127.9h0M104.3 1137.9h0M136.4 1151.2h0M170.7 1160.2h0M203.3 1173h0M234.1 1182.5h0M269.2 1194.5h0M303 1202.5h0M334.8 1216.3h0M371.4 1232.3h0M406.9 1250.1h0M438.2 1258.1h0M468.8 1260.4h0M500 1272.5h0M528.3 1272.5h0M538.4 1244h0M563.4 1233.6h0M597.7 1245.6h0M623.3 1245h0M651.1 1238h0M672.1 1212.7h0M721 1204.7h0M745.5 1195.7h0M768.6 1161h0M795.1 1197.7h0M811.9 1221h0M834.5 1235.5h0M846.2 1251h0M860.8 1252h0M864.5 1238.2h0M876.5 1195.7h0M884.1 1156.1h0M895.1 1153.6h0M902.8 1158.1h0M909.6 1144.3h0M913.4 1128h0M919.6 1106.7h0M928.4 1102.2h0" stroke="#0000ff" stroke-width="4.2"/>
<polyline points="76.3,1070.5 78.8,1069 95.1,1057.7 111.6,1051 127.6,1049.2 144.1,1070.3 189.2,1090.3 237.3,1109.1 284.4,1124.9 329.8,1139.4 373.4,1154.4 416.7,1169.7 458.8,1183.5 497.5,1199.9 538.4,1213.7 578.2,1234.5 617.3,1251.5 658.4,1271.4 700.4,1290.3 742.3,1271 754.3,1241 760.6,1234 766.8,1230.7 772.6,1215.7 778.1,1202.7 784.4,1186.9 790.6,1176.1 796.1,1155.6 801.9,1147.3 808.7,1129.8 813.9,1132.3 819.9,1120.5 826.2,1124.3 832.5,1125.5 839,1131.8 844.5,1137.5 850.7,1144.8 857,1151.8 862.8,1163.1 869,1176.9 875,1188.1 881.6,1200.7 887.8,1214.4 894.1,1230 900.8,1245.8 908.4,1261.5 913.9,1244.5 917.9,1203.2 919.1,1153.1 920.9,1138 924.6,1125.5 927.7,1098" stroke="#00ff00" stroke-width="2.05"/>
<path d="M76.3 1070.5h0M78.8 1069h0M95.1 1057.7h0M111.6 1051h0M127.6 1049.2h0M144.1 1070.3h0M189.2 1090.3h0M237.3 1109.1h0M284.4 1124.9h0M329.8 1139.4h0M373.4 1154.4h0M416.7 1169.7h0M458.8 1183.5h0M497.5 1199.9h0M538.4 1213.7h0M578.2 1234.5h0M617.3 1251.5h0M658.4 1271.4h0M700.4 1290.3h0M742.3 1271h0M754.3 1241h0M760.6 1234h0M766.8 1230.7h0M772.6 1215.7h0M778.1 1202.7h0M784.4 1186.9h0M790.6 1176.1h0M796.1 1155.6h0M801.9 1147.3h0M808.7 1129.8h0M813.9 1132.3h0M819.9 1120.5h0M826.2 1124.3h0M832.5 1125.5h0M839 1131.8h0M844.5 1137.5h0M850.7 1144.8h0M857 1151.8h0M862.8 1163.1h0M869 1176.9h0M875 1188.1h0M881.6 1200.7h0M887.8 1214.4h0M894.1 1230h0M900.8 1245.8h0M908.4 1261.5h0M913.9 1244.5h0M917.9 1203.2h0M919.1 1153.1h0M920.9 1138h0M924.6 1125.5h0M927.7 1098h0" stroke="#00ff00" stroke-width="4.2"/>
<polyline points="361.3,1090.3 375.6,1091.8 389.6,1091.8 404.4,1077.3 418.9,1063.5 433.2,1060.2 448,1026.4 462,992.4 476.6,959.3 490.5,983.5 504.5,991.5 518.8,1003.5 533.4,1012 547.1,1008 561.9,1029.6 576.9,1037.8 591,1044.6 605.5,1052.1 620.3,1057.4 634.8,1050.6 649.1,1056.1 663.6,1048.6 677.9,1062.9 692.4,1077.7 707.2,1072.9 721,1061.4 735.5,1077.4 750,1086.9 764.8,1105.5 779.3,1119.7 794.1,1118 809.4,1140.5 842,1180.1 856.5,1197.4 865.8,1202.7 873.3,1190.6 880.1,1158.1 885.8,1148.6 891.6,1141 897.6,1119.7 903.3,1103.7 909.6,1100 915.9,1092 921.4,1101.7" stroke="#ff0000" stroke-width="2.05"/>
<path d="M361.3 1090.3h0M375.6 1091.8h0M389.6 1091.8h0M404.4 1077.3h0M418.9 1063.5h0M433.2 1060.2h0M448 1026.4h0M462 992.4h0M476.6 959.3h0M490.5 983.5h0M504.5 991.5h0M518.8 1003.5h0M533.4 1012h0M547.1 1008h0M561.9 1029.6h0M576.9 1037.8h0M591 1044.6h0M605.5 1052.1h0M620.3 1057.4h0M634.8 1050.6h0M649.1 1056.1h0M663.6 1048.6h0M677.9 1062.9h0M692.4 1077.7h0M707.2 1072.9h0M721 1061.4h0M735.5 1077.4h0M750 1086.9h0M764.8 1105.5h0M779.3 1119.7h0M794.1 1118h0M809.4 1140.5h0M842 1180.1h0M856.5 1197.4h0M865.8 1202.7h0M873.3 1190.6h0M880.1 1158.1h0M885.8 1148.6h0M891.6 1141h0M897.6 1119.7h0M903.3 1103.7h0M909.6 1100h0M915.9 1092h0M921.4 1101.7h0" stroke="#ff0000" stroke-width="4.2"/>
<polyline points="76.3,1144.9 92.5,1150.4 141.1,1167.2 189.2,1183.5 233.3,1198.5 275.9,1215.6 318.5,1230.8 364.6,1247.6 411.7,1265.7 463.3,1282.7 511.3,1300.3 556.4,1316.1 592,1332.2 627.8,1348.7 663.6,1361.7 698.4,1376 733,1390.5 767.6,1405.1 804.4,1400.5 811.9,1403.5 819.4,1406.3 826.4,1400.5 833.7,1403 840.7,1398.5 847.5,1405.6 855,1396.8 858.8,1393 863.3,1395.5 867.8,1396.8 871.5,1393 873.3,1375.5 875,1364.2 878.3,1351.7 882.6,1345.9 885.8,1349.2 889.6,1342.4 893.3,1341.7 897.1,1347.9 900.1,1356.7 902.1,1365 904.6,1347.9 905.9,1331.7 908.4,1306.6 910.1,1272.8 912.1,1240.2 914.1,1232.7 917.1,1217.7 920.9,1211.4 923.9,1202.6 927.2,1178.8 929.7,1140 931,1091" stroke="#ffc0cb" stroke-width="1.6"/>
<path d="M76.3 1144.9h0M92.5 1150.4h0M141.1 1167.2h0M189.2 1183.5h0M233.3 1198.5h0M275.9 1215.6h0M318.5 1230.8h0M364.6 1247.6h0M411.7 1265.7h0M463.3 1282.7h0M511.3 1300.3h0M556.4 1316.1h0M592 1332.2h0M627.8 1348.7h0M663.6 1361.7h0M698.4 1376h0M733 1390.5h0M767.6 1405.1h0M804.4 1400.5h0M811.9 1403.5h0M819.4 1406.3h0M826.4 1400.5h0M833.7 1403h0M840.7 1398.5h0M847.5 1405.6h0M855 1396.8h0M858.8 1393h0M863.3 1395.5h0M867.8 1396.8h0M871.5 1393h0M873.3 1375.5h0M875 1364.2h0M878.3 1351.7h0M882.6 1345.9h0M885.8 1349.2h0M889.6 1342.4h0M893.3 1341.7h0M897.1 1347.9h0M900.1 1356.7h0M902.1 1365h0M904.6 1347.9h0M905.9 1331.7h0M908.4 1306.6h0M910.1 1272.8h0M912.1 1240.2h0M914.1 1232.7h0M917.1 1217.7h0M920.9 1211.4h0M923.9 1202.6h0M927.2 1178.8h0M929.7 1140h0M931 1091h0" stroke="#ffc0cb" stroke-width="3.6"/>
<polyline points="303,1106.1 318.7,1116.6 336,1122.4 352.3,1112.8 369.3,1107.8 386.1,1105.3 403.7,1099.6 420.7,1104.1 436.2,1100.8 453,1084.5 470,1083.5 486.3,1072.9 502.5,1060.9 518.8,1046.9 537.6,1042.1 559.4,1045.4 581,1032.3 603,1029.1 623.8,1027.6 644.1,1031.6 664.1,1033.8 684.2,1064.1 704.2,1080.4 723.5,1101.7 742.3,1120 760.6,1134.3 778.6,1145.6 794.1,1153.8 808.7,1161.8 822.7,1164.3 834.5,1159.3 844.5,1162.6 855,1187.4 867,1192.4 877.6,1201.9 885.1,1180.6 897.1,1200.7 903.3,1216.9 910.4,1219.4 917.1,1211.9 923.9,1188.1 928.4,1131.8 930.9,1101.7" stroke="#ffa500" stroke-width="2.05"/>
<path d="M303 1106.1h0M318.7 1116.6h0M336 1122.4h0M352.3 1112.8h0M369.3 1107.8h0M386.1 1105.3h0M403.7 1099.6h0M420.7 1104.1h0M436.2 1100.8h0M453 1084.5h0M470 1083.5h0M486.3 1072.9h0M502.5 1060.9h0M518.8 1046.9h0M537.6 1042.1h0M559.4 1045.4h0M581 1032.3h0M603 1029.1h0M623.8 1027.6h0M644.1 1031.6h0M664.1 1033.8h0M684.2 1064.1h0M704.2 1080.4h0M723.5 1101.7h0M742.3 1120h0M760.6 1134.3h0M778.6 1145.6h0M794.1 1153.8h0M808.7 1161.8h0M822.7 1164.3h0M834.5 1159.3h0M844.5 1162.6h0M855 1187.4h0M867 1192.4h0M877.6 1201.9h0M885.1 1180.6h0M897.1 1200.7h0M903.3 1216.9h0M910.4 1219.4h0M917.1 1211.9h0M923.9 1188.1h0M928.4 1131.8h0M930.9 1101.7h0" stroke="#ffa500" stroke-width="4.2"/>
</g>
<g fill="none" stroke-dasharray="5.2 5.65">
<line x1="477.1" y1="880" x2="477.1" y2="1513.6" stroke="#ff0000" stroke-opacity="0.5" stroke-width="1.6"/>
<line x1="530.5" y1="880" x2="530.5" y2="1513.6" stroke="#0000ff" stroke-opacity="0.5" stroke-width="1.6"/>
<line x1="664.9" y1="880" x2="664.9" y2="1513.6" stroke="#ffa500" stroke-opacity="1" stroke-width="1.7"/>
<line x1="702" y1="880" x2="702" y2="1513.6" stroke="#00ff00" stroke-opacity="0.6" stroke-width="1.6"/>
<line x1="768.6" y1="880" x2="768.6" y2="1513.6" stroke="#0000ff" stroke-opacity="0.7" stroke-width="1.6"/>
<line x1="798.6" y1="880" x2="798.6" y2="1513.6" stroke="#bebebe" stroke-opacity="1" stroke-width="1.6"/>
<line x1="821.7" y1="880" x2="821.7" y2="1513.6" stroke="#00ff00" stroke-opacity="0.6" stroke-width="1.6"/>
<line x1="862" y1="880" x2="862" y2="1513.6" stroke="#0000ff" stroke-opacity="0.9" stroke-width="1.7"/>
<line x1="867" y1="880" x2="867" y2="1513.6" stroke="#ff0000" stroke-opacity="0.75" stroke-width="1.7"/>
<line x1="871.5" y1="880" x2="871.5" y2="1513.6" stroke="#ffc0cb" stroke-opacity="1" stroke-width="1.4"/>
<line x1="908.4" y1="880" x2="908.4" y2="1513.6" stroke="#00ff00" stroke-opacity="1" stroke-width="1.7"/>
<line x1="911.6" y1="880" x2="911.6" y2="1513.6" stroke="#ffa500" stroke-opacity="1" stroke-width="1.7"/>
</g>
<rect x="75.8" y="875" width="885.4" height="639.1" fill="none" stroke="#757575" stroke-width="1.8"/>
<path d="M477.1 875H911.6M477.1 875.8v-9M530.5 875.8v-9M664.9 875.8v-9M702 875.8v-9M768.6 875.8v-9M798.6 875.8v-9M821.7 875.8v-9M862 875.8v-9M867 875.8v-9M871.5 875.8v-9M908.4 875.8v-9M911.6 875.8v-9" fill="none" stroke="#262626" stroke-width="1.45"/>
<path d="M66.6 1007.6H75.8M66.6 1038.8H75.8M66.6 1069.7H75.8M66.6 1101H75.8M66.6 1131.9H75.8M66.6 1163.2H75.8M66.6 1194.3H75.8M66.6 1225.3H75.8M108 1514.1v9M270.5 1514.1v9M433 1514.1v9M595.3 1514.1v9M757.6 1514.1v9M919.8 1514.1v9M75.8 1007.6V1225.3M108 1514.1H919.8" fill="none" stroke="#454545" stroke-width="1.5"/>
<g font-family="'Liberation Sans',Arial,Helvetica,sans-serif" font-size="23" fill="#111" stroke="#111" stroke-width="0.4">
<text x="64.2" y="1013.1" text-anchor="end">6</text>
<text x="64.2" y="1044.3" text-anchor="end">4</text>
<text x="64.2" y="1075.2" text-anchor="end">2</text>
<text x="64.2" y="1106.5" text-anchor="end">0</text>
<text x="64.2" y="1137.4" text-anchor="end">−2</text>
<text x="64.2" y="1168.7" text-anchor="end">−4</text>
<text x="64.2" y="1199.8" text-anchor="end">−6</text>
<text x="64.2" y="1230.8" text-anchor="end">−8</text>
<text x="108" y="1546" text-anchor="middle">1000</text>
<text x="270.5" y="1546" text-anchor="middle">1200</text>
<text x="433" y="1546" text-anchor="middle">1400</text>
<text x="595.3" y="1546" text-anchor="middle">1600</text>
<text x="757.6" y="1546" text-anchor="middle">1800</text>
<text x="919.8" y="1546" text-anchor="middle">2000</text>
</g>
<text transform="translate(22 1113.8) rotate(-90)" font-family="'Liberation Sans',Arial,Helvetica,sans-serif" font-size="22.5" fill="#111" stroke="#111" stroke-width="0.4" text-anchor="middle" textLength="173" lengthAdjust="spacing">Accum. Anomaly</text>
<text x="519.6" y="1561.6" font-family="'Liberation Sans',Arial,Helvetica,sans-serif" font-size="23" fill="#111" stroke="#111" stroke-width="0.4" text-anchor="middle">Years</text>
<line x1="88.1" y1="1377.6" x2="115.4" y2="1377.6" stroke="#bebebe" stroke-width="1.5"/>
<text x="124.6" y="1383.6" font-family="'Liberation Sans',Arial,Helvetica,sans-serif" font-size="18.4" fill="#111" stroke="#111" stroke-width="0.25" textLength="80.6" lengthAdjust="spacingAndGlyphs">Cregueña</text>
<line x1="88.1" y1="1401.6" x2="115.4" y2="1401.6" stroke="#0000ff" stroke-width="1.8"/>
<text x="124.6" y="1407.6" font-family="'Liberation Sans',Arial,Helvetica,sans-serif" font-size="18.4" fill="#111" stroke="#111" stroke-width="0.25" textLength="71" lengthAdjust="spacingAndGlyphs">Marboré</text>
<line x1="88.1" y1="1425.6" x2="115.4" y2="1425.6" stroke="#00ff00" stroke-width="1.8"/>
<text x="124.6" y="1431.6" font-family="'Liberation Sans',Arial,Helvetica,sans-serif" font-size="18.4" fill="#111" stroke="#111" stroke-width="0.25" textLength="70" lengthAdjust="spacingAndGlyphs">La Sierra</text>
<line x1="88.1" y1="1449.6" x2="115.4" y2="1449.6" stroke="#ff0000" stroke-width="1.8"/>
<text x="124.6" y="1455.6" font-family="'Liberation Sans',Arial,Helvetica,sans-serif" font-size="18.4" fill="#111" stroke="#111" stroke-width="0.25" textLength="71.2" lengthAdjust="spacingAndGlyphs">Urdiceto</text>
<line x1="88.1" y1="1473.6" x2="115.4" y2="1473.6" stroke="#ffc0cb" stroke-width="1.5"/>
<text x="124.6" y="1479.6" font-family="'Liberation Sans',Arial,Helvetica,sans-serif" font-size="18.4" fill="#111" stroke="#111" stroke-width="0.25" textLength="69.4" lengthAdjust="spacingAndGlyphs">Sabocos</text>
<line x1="88.1" y1="1497.6" x2="115.4" y2="1497.6" stroke="#ffa500" stroke-width="1.8"/>
<text x="124.6" y="1503.6" font-family="'Liberation Sans',Arial,Helvetica,sans-serif" font-size="18.4" fill="#111" stroke="#111" stroke-width="0.25" textLength="70.4" lengthAdjust="spacingAndGlyphs">Acherito</text>
<rect x="798.9" y="1551.5" width="81.9" height="33.9" fill="none" stroke="#666" stroke-width="3.3"/>
<rect x="274.1" y="1593.5" width="524" height="34.2" fill="none" stroke="#666" stroke-width="3.3"/>
<rect x="879.4" y="1549.8" width="82.5" height="3.3" fill="url(#gr)"/>
<rect x="879.4" y="1583.7" width="82.5" height="3.3" fill="url(#gr)"/>
<rect x="879.4" y="1549.8" width="3.5999999999999996" height="37.2" fill="#1c1c1c"/>
<rect x="835" y="1592" width="131.5" height="3.3" fill="url(#gl)"/>
<rect x="835" y="1626.2" width="131.5" height="3.3" fill="url(#gl)"/>
<rect x="962.9" y="1592" width="3.5999999999999996" height="37.5" fill="#1c1c1c"/>
<g font-family="'Liberation Sans',Arial,Helvetica,sans-serif" font-size="23" fill="#111" stroke="#111" stroke-width="0.4" text-anchor="middle" letter-spacing="0.4">
<text x="839" y="1578.4">IR</text>
<text x="922.4" y="1578.4">GA</text>
<text x="530.3" y="1618.7">LIA</text>
<text x="894.9" y="1618.7">GW</text>
</g>
<text x="422" y="859" font-family="'Liberation Sans',Arial,Helvetica,sans-serif" font-weight="bold" font-size="35" fill="#000" stroke="#000" stroke-width="0.4" textLength="214.5" lengthAdjust="spacingAndGlyphs">Lithogenic Flux</text>
</g>
<g id="p4">
<clipPath id="c4"><rect x="1072" y="875" width="885.2" height="639.1"/></clipPath>
<g clip-path="url(#c4)" fill="none" stroke-linejoin="round" stroke-linecap="round">
<polyline points="1916.7,1141.3 1917.5,1124.8 1919.2,1096.8 1921.2,1075.4 1922.2,1050 1923.3,1025.9 1924.1,1006.2 1925.4,989.7 1926.9,974.8" stroke="#00ff00" stroke-width="0.9" stroke-opacity="0.9"/>
<path d="M1916.7 1141.3h0M1917.5 1124.8h0M1919.2 1096.8h0M1921.2 1075.4h0M1922.2 1050h0M1923.3 1025.9h0M1924.1 1006.2h0M1925.4 989.7h0M1926.9 974.8h0" stroke="#00ff00" stroke-width="3.2"/>
<polyline points="1072,998.5 1136.7,1022.1 1202.3,1035.6 1266.9,1060.6 1333,1074.9 1400.2,1093.7 1549.2,1108 1601.8,1130.5 1628.1,1147.1 1653.6,1165.8 1679.9,1178.1 1705.7,1192.4 1730,1204.4 1752.8,1218.2 1774.6,1225.7 1793.4,1227.7 1808.9,1210.7 1820.2,1201.9 1831.5,1191.4 1843,1186.9 1853.5,1183.1 1865.3,1171.8 1874.1,1158.1 1887.3,1139.3 1896.6,1111 1904.9,1072.9 1911.9,1015.3 1917.4,987.7" stroke="#bebebe" stroke-width="1.6"/>
<path d="M1072 998.5h0M1136.7 1022.1h0M1202.3 1035.6h0M1266.9 1060.6h0M1333 1074.9h0M1400.2 1093.7h0M1549.2 1108h0M1601.8 1130.5h0M1628.1 1147.1h0M1653.6 1165.8h0M1679.9 1178.1h0M1705.7 1192.4h0M1730 1204.4h0M1752.8 1218.2h0M1774.6 1225.7h0M1793.4 1227.7h0M1808.9 1210.7h0M1820.2 1201.9h0M1831.5 1191.4h0M1843 1186.9h0M1853.5 1183.1h0M1865.3 1171.8h0M1874.1 1158.1h0M1887.3 1139.3h0M1896.6 1111h0M1904.9 1072.9h0M1911.9 1015.3h0M1917.4 987.7h0" stroke="#bebebe" stroke-width="3.6"/>
<polyline points="1072,982.7 1100.1,986.7 1132.1,992.5 1166.5,1002 1199.5,1002 1230.1,999.8 1264.9,1022.8 1298.7,1022.8 1330.5,1028.6 1367.4,1037.6 1403.2,1048.6 1434.2,1047.1 1464.6,1042.1 1496,1059.9 1523.6,1039.6 1534.1,992 1559.9,960.2 1593.7,968.2 1620,959.4 1646.8,984.7 1668.6,940.6 1717,921.9 1742.5,910.6 1764.6,895.8 1790.9,930.1 1807.9,957.2 1831,973.5 1841.5,1001.5 1855.5,1014.8 1863.5,1003.5 1874.1,1024.1 1880.3,1009 1890.6,1014 1899.9,1012.8 1906.6,1009 1909.9,1001.5 1915.6,984 1924.9,974.7" stroke="#0000ff" stroke-width="2.05"/>
<path d="M1072 982.7h0M1100.1 986.7h0M1132.1 992.5h0M1166.5 1002h0M1199.5 1002h0M1230.1 999.8h0M1264.9 1022.8h0M1298.7 1022.8h0M1330.5 1028.6h0M1367.4 1037.6h0M1403.2 1048.6h0M1434.2 1047.1h0M1464.6 1042.1h0M1496 1059.9h0M1523.6 1039.6h0M1534.1 992h0M1559.9 960.2h0M1593.7 968.2h0M1620 959.4h0M1646.8 984.7h0M1668.6 940.6h0M1717 921.9h0M1742.5 910.6h0M1764.6 895.8h0M1790.9 930.1h0M1807.9 957.2h0M1831 973.5h0M1841.5 1001.5h0M1855.5 1014.8h0M1863.5 1003.5h0M1874.1 1024.1h0M1880.3 1009h0M1890.6 1014h0M1899.9 1012.8h0M1906.6 1009h0M1909.9 1001.5h0M1915.6 984h0M1924.9 974.7h0" stroke="#0000ff" stroke-width="4.2"/>
<polyline points="1072,906.5 1075,905.3 1091.8,889.5 1107.1,881.8 1123.4,881 1140.4,902.1 1185.3,921.9 1232.8,940.6 1280.4,958.2 1325.5,974 1369.6,991 1412.5,1007.8 1455,1025.3 1494,1043.6 1534.1,1062.9 1574.2,1085.4 1613.8,1104.7 1654.4,1125.5 1696.4,1145.6 1739,1134.3 1750.3,1116.7 1756.6,1118 1762.6,1123.5 1769.1,1118.7 1774.6,1115.5 1780.1,1106.7 1786.6,1104.2 1792.6,1094.9 1798.9,1095.9 1805.2,1092.2 1810.4,1103.5 1816.4,1108 1822.2,1120.5 1828,1130.5 1834.2,1143 1840.2,1153.8 1846.7,1166.1 1854,1176.1 1859.3,1191.9 1865.5,1208.7 1872.3,1218.5 1879.1,1233.7 1884.3,1248 1890.6,1264 1897.3,1280.3 1903.6,1295.3 1909.9,1280.3 1911.1,1260.3 1912.4,1246.5 1914.1,1228.2 1915.4,1165.1 1916.7,1141.3" stroke="#00ff00" stroke-width="2.05"/>
<path d="M1072 906.5h0M1075 905.3h0M1091.8 889.5h0M1107.1 881.8h0M1123.4 881h0M1140.4 902.1h0M1185.3 921.9h0M1232.8 940.6h0M1280.4 958.2h0M1325.5 974h0M1369.6 991h0M1412.5 1007.8h0M1455 1025.3h0M1494 1043.6h0M1534.1 1062.9h0M1574.2 1085.4h0M1613.8 1104.7h0M1654.4 1125.5h0M1696.4 1145.6h0M1739 1134.3h0M1750.3 1116.7h0M1756.6 1118h0M1762.6 1123.5h0M1769.1 1118.7h0M1774.6 1115.5h0M1780.1 1106.7h0M1786.6 1104.2h0M1792.6 1094.9h0M1798.9 1095.9h0M1805.2 1092.2h0M1810.4 1103.5h0M1816.4 1108h0M1822.2 1120.5h0M1828 1130.5h0M1834.2 1143h0M1840.2 1153.8h0M1846.7 1166.1h0M1854 1176.1h0M1859.3 1191.9h0M1865.5 1208.7h0M1872.3 1218.5h0M1879.1 1233.7h0M1884.3 1248h0M1890.6 1264h0M1897.3 1280.3h0M1903.6 1295.3h0M1909.9 1280.3h0M1911.1 1260.3h0M1912.4 1246.5h0M1914.1 1228.2h0M1915.4 1165.1h0M1916.7 1141.3h0" stroke="#00ff00" stroke-width="4.2"/>
<polyline points="1357.3,977.2 1371.9,992.2 1385.9,1005.3 1400.4,1019.8 1414.7,1030.3 1430,1034.8 1444.5,1054.1 1458.3,1073.7 1472.6,1067.9 1486.5,1080.7 1501.1,1087.9 1515.3,1088.7 1529.6,1083.7 1543.4,1083.4 1558.4,1096.7 1573.4,1103 1587.2,1114.2 1601.8,1121.8 1616.3,1126.3 1630.8,1133.5 1644.8,1146.3 1659.4,1161.8 1673.9,1170.6 1688.7,1179.9 1703.2,1183.1 1717.5,1192.4 1732,1201.2 1746.5,1211.2 1760.8,1222 1775.9,1231.5 1790.4,1242.9 1805.4,1256.5 1821.7,1270.8 1837.7,1281.1 1852.8,1283.6 1862.3,1272.5 1869.8,1238 1876.1,1169.4 1881.8,1133.5 1887.3,1103 1893.6,1061.6 1899.1,1025.3 1905.4,1003.5 1911.6,985.2 1917.4,974" stroke="#ff0000" stroke-width="2.05"/>
<path d="M1357.3 977.2h0M1371.9 992.2h0M1385.9 1005.3h0M1400.4 1019.8h0M1414.7 1030.3h0M1430 1034.8h0M1444.5 1054.1h0M1458.3 1073.7h0M1472.6 1067.9h0M1486.5 1080.7h0M1501.1 1087.9h0M1515.3 1088.7h0M1529.6 1083.7h0M1543.4 1083.4h0M1558.4 1096.7h0M1573.4 1103h0M1587.2 1114.2h0M1601.8 1121.8h0M1616.3 1126.3h0M1630.8 1133.5h0M1644.8 1146.3h0M1659.4 1161.8h0M1673.9 1170.6h0M1688.7 1179.9h0M1703.2 1183.1h0M1717.5 1192.4h0M1732 1201.2h0M1746.5 1211.2h0M1760.8 1222h0M1775.9 1231.5h0M1790.4 1242.9h0M1805.4 1256.5h0M1821.7 1270.8h0M1837.7 1281.1h0M1852.8 1283.6h0M1862.3 1272.5h0M1869.8 1238h0M1876.1 1169.4h0M1881.8 1133.5h0M1887.3 1103h0M1893.6 1061.6h0M1899.1 1025.3h0M1905.4 1003.5h0M1911.6 985.2h0M1917.4 974h0" stroke="#ff0000" stroke-width="4.2"/>
<polyline points="1072,1018.8 1088.8,1023.8 1137.2,1039.8 1185.3,1055.9 1229.1,1071.7 1271.7,1087.9 1315,1104.2 1360.6,1120 1407.4,1137 1459,1153.3 1508.3,1168.8 1552.2,1184.4 1588,1200.9 1623.8,1217.7 1658.9,1233.5 1694.4,1249.2 1729,1265.3 1763.3,1280.3 1800.4,1292.3 1808.4,1305.4 1815.4,1317.1 1822.2,1327.1 1829.7,1338.4 1836,1349.7 1844,1362.5 1851.8,1365.5 1855.3,1371.2 1859.8,1379.3 1864,1386.8 1867.8,1394.3 1871.5,1395.5 1874.8,1401.8 1878.6,1406.1 1881.8,1409.3 1885.3,1408.1 1888.6,1410.6 1892.3,1411.8 1895.6,1413.1 1897.9,1416.8 1899.1,1405.6 1899.9,1380.5 1900.6,1337.9 1902.9,1325.4 1904.4,1292.8 1906.1,1205.2 1908.1,1187.6 1911.1,1176.3 1913.6,1158.8 1916.1,1140 1918.6,1120 1921,1095 1923.5,1040 1925.5,1000 1927,975" stroke="#ffc0cb" stroke-width="1.6"/>
<path d="M1072 1018.8h0M1088.8 1023.8h0M1137.2 1039.8h0M1185.3 1055.9h0M1229.1 1071.7h0M1271.7 1087.9h0M1315 1104.2h0M1360.6 1120h0M1407.4 1137h0M1459 1153.3h0M1508.3 1168.8h0M1552.2 1184.4h0M1588 1200.9h0M1623.8 1217.7h0M1658.9 1233.5h0M1694.4 1249.2h0M1729 1265.3h0M1763.3 1280.3h0M1800.4 1292.3h0M1808.4 1305.4h0M1815.4 1317.1h0M1822.2 1327.1h0M1829.7 1338.4h0M1836 1349.7h0M1844 1362.5h0M1851.8 1365.5h0M1855.3 1371.2h0M1859.8 1379.3h0M1864 1386.8h0M1867.8 1394.3h0M1871.5 1395.5h0M1874.8 1401.8h0M1878.6 1406.1h0M1881.8 1409.3h0M1885.3 1408.1h0M1888.6 1410.6h0M1892.3 1411.8h0M1895.6 1413.1h0M1897.9 1416.8h0M1899.1 1405.6h0M1899.9 1380.5h0M1900.6 1337.9h0M1902.9 1325.4h0M1904.4 1292.8h0M1906.1 1205.2h0M1908.1 1187.6h0M1911.1 1176.3h0M1913.6 1158.8h0M1916.1 1140h0M1918.6 1120h0M1921 1095h0M1923.5 1040h0M1925.5 1000h0M1927 975h0" stroke="#ffc0cb" stroke-width="3.6"/>
<polyline points="1298.7,980.2 1315,989.5 1332.5,994 1348.1,987 1365.1,985.2 1382.6,985.2 1399.4,981 1416.2,983.7 1433.2,979.5 1449,968.4 1465.8,968.4 1482.3,958.9 1498.5,950.2 1514.8,942.4 1533.6,946.2 1555.4,957.2 1577.5,956.2 1599.3,968.2 1621,972.2 1639.8,981 1659.9,987 1680.7,1016 1700.2,1032.8 1719.5,1051.9 1739,1069.6 1757.1,1084.9 1774.6,1097.5 1790.1,1108.2 1805.2,1118 1818.9,1122.5 1831,1120 1840.2,1126.8 1850.3,1148.1 1862.3,1153.1 1874.1,1159.3 1880.6,1138.5 1892.8,1153.1 1899.9,1162.3 1906.9,1159.3 1914.1,1141.8 1921.1,1105.5 1924.2,1027.8 1926.9,974" stroke="#ffa500" stroke-width="2.05"/>
<path d="M1298.7 980.2h0M1315 989.5h0M1332.5 994h0M1348.1 987h0M1365.1 985.2h0M1382.6 985.2h0M1399.4 981h0M1416.2 983.7h0M1433.2 979.5h0M1449 968.4h0M1465.8 968.4h0M1482.3 958.9h0M1498.5 950.2h0M1514.8 942.4h0M1533.6 946.2h0M1555.4 957.2h0M1577.5 956.2h0M1599.3 968.2h0M1621 972.2h0M1639.8 981h0M1659.9 987h0M1680.7 1016h0M1700.2 1032.8h0M1719.5 1051.9h0M1739 1069.6h0M1757.1 1084.9h0M1774.6 1097.5h0M1790.1 1108.2h0M1805.2 1118h0M1818.9 1122.5h0M1831 1120h0M1840.2 1126.8h0M1850.3 1148.1h0M1862.3 1153.1h0M1874.1 1159.3h0M1880.6 1138.5h0M1892.8 1153.1h0M1899.9 1162.3h0M1906.9 1159.3h0M1914.1 1141.8h0M1921.1 1105.5h0M1924.2 1027.8h0M1926.9 974h0" stroke="#ffa500" stroke-width="4.2"/>
</g>
<g fill="none" stroke-dasharray="5.2 5.65">
<line x1="1497" y1="880" x2="1497" y2="1513.6" stroke="#0000ff" stroke-opacity="0.5" stroke-width="1.6"/>
<line x1="1514.8" y1="880" x2="1514.8" y2="1513.6" stroke="#ffa500" stroke-opacity="0.55" stroke-width="1.6"/>
<line x1="1697.4" y1="880" x2="1697.4" y2="1513.6" stroke="#00ff00" stroke-opacity="0.6" stroke-width="1.6"/>
<line x1="1764.6" y1="880" x2="1764.6" y2="1513.6" stroke="#0000ff" stroke-opacity="1" stroke-width="2.2"/>
<line x1="1794.6" y1="880" x2="1794.6" y2="1513.6" stroke="#bebebe" stroke-opacity="0.6" stroke-width="1.6"/>
<line x1="1800.4" y1="880" x2="1800.4" y2="1513.6" stroke="#ffc0cb" stroke-opacity="1" stroke-width="1.4"/>
<line x1="1806.4" y1="880" x2="1806.4" y2="1513.6" stroke="#00ff00" stroke-opacity="0.8" stroke-width="1.6"/>
<line x1="1851.8" y1="880" x2="1851.8" y2="1513.6" stroke="#ff0000" stroke-opacity="0.5" stroke-width="1.6"/>
<line x1="1855.8" y1="880" x2="1855.8" y2="1513.6" stroke="#0000ff" stroke-opacity="0.5" stroke-width="1.6"/>
<line x1="1899.8" y1="880" x2="1899.8" y2="1513.6" stroke="#ffa500" stroke-opacity="1" stroke-width="1.7"/>
<line x1="1899.8" y1="880" x2="1899.8" y2="1513.6" stroke="#ff0000" stroke-opacity="0.28" stroke-width="1.6"/>
<line x1="1904.4" y1="880" x2="1904.4" y2="1513.6" stroke="#00ff00" stroke-opacity="1" stroke-width="1.7"/>
</g>
<rect x="1072" y="875" width="885.2" height="639.1" fill="none" stroke="#757575" stroke-width="1.8"/>
<path d="M1497 875H1904.4M1497 875.8v-9M1514.8 875.8v-9M1697.4 875.8v-9M1764.6 875.8v-9M1794.6 875.8v-9M1800.4 875.8v-9M1806.4 875.8v-9M1851.8 875.8v-9M1855.8 875.8v-9M1899.8 875.8v-9M1899.8 875.8v-9M1904.4 875.8v-9" fill="none" stroke="#262626" stroke-width="1.45"/>
<path d="M1062.9 936.6H1072M1062.9 975.1H1072M1062.9 1013H1072M1062.9 1051H1072M1062.9 1089.4H1072M1062.9 1127.6H1072M1062.9 1165.5H1072M1104.4 1514.1v9M1266.8 1514.1v9M1428.9 1514.1v9M1591.3 1514.1v9M1754 1514.1v9M1916.6 1514.1v9M1072 936.6V1165.5M1104.4 1514.1H1916.6" fill="none" stroke="#454545" stroke-width="1.5"/>
<g font-family="'Liberation Sans',Arial,Helvetica,sans-serif" font-size="23" fill="#111" stroke="#111" stroke-width="0.4">
<text x="1059.7" y="941.6" text-anchor="end">2</text>
<text x="1059.7" y="980.1" text-anchor="end">0</text>
<text x="1059.7" y="1018" text-anchor="end">−2</text>
<text x="1059.7" y="1056" text-anchor="end">−4</text>
<text x="1059.7" y="1094.4" text-anchor="end">−6</text>
<text x="1059.7" y="1132.6" text-anchor="end">−8</text>
<text x="1059.7" y="1170.5" text-anchor="end">−10</text>
<text x="1104.4" y="1546" text-anchor="middle">1000</text>
<text x="1266.8" y="1546" text-anchor="middle">1200</text>
<text x="1428.9" y="1546" text-anchor="middle">1400</text>
<text x="1591.3" y="1546" text-anchor="middle">1600</text>
<text x="1754" y="1546" text-anchor="middle">1800</text>
<text x="1916.6" y="1546" text-anchor="middle">2000</text>
</g>
<text transform="translate(1012 1051.2) rotate(-90)" font-family="'Liberation Sans',Arial,Helvetica,sans-serif" font-size="22.5" fill="#111" stroke="#111" stroke-width="0.4" text-anchor="middle" textLength="173" lengthAdjust="spacing">Accum. Anomaly</text>
<text x="1513.8" y="1561.6" font-family="'Liberation Sans',Arial,Helvetica,sans-serif" font-size="23" fill="#111" stroke="#111" stroke-width="0.4" text-anchor="middle">Years</text>
<line x1="1082.8" y1="1377.6" x2="1109.9" y2="1377.6" stroke="#bebebe" stroke-width="1.5"/>
<text x="1119" y="1383.6" font-family="'Liberation Sans',Arial,Helvetica,sans-serif" font-size="18.4" fill="#111" stroke="#111" stroke-width="0.25" textLength="80.6" lengthAdjust="spacingAndGlyphs">Cregueña</text>
<line x1="1082.8" y1="1401.6" x2="1109.9" y2="1401.6" stroke="#0000ff" stroke-width="1.8"/>
<text x="1119" y="1407.6" font-family="'Liberation Sans',Arial,Helvetica,sans-serif" font-size="18.4" fill="#111" stroke="#111" stroke-width="0.25" textLength="71" lengthAdjust="spacingAndGlyphs">Marboré</text>
<line x1="1082.8" y1="1425.6" x2="1109.9" y2="1425.6" stroke="#00ff00" stroke-width="1.8"/>
<text x="1119" y="1431.6" font-family="'Liberation Sans',Arial,Helvetica,sans-serif" font-size="18.4" fill="#111" stroke="#111" stroke-width="0.25" textLength="70" lengthAdjust="spacingAndGlyphs">La Sierra</text>
<line x1="1082.8" y1="1449.6" x2="1109.9" y2="1449.6" stroke="#ff0000" stroke-width="1.8"/>
<text x="1119" y="1455.6" font-family="'Liberation Sans',Arial,Helvetica,sans-serif" font-size="18.4" fill="#111" stroke="#111" stroke-width="0.25" textLength="71.2" lengthAdjust="spacingAndGlyphs">Urdiceto</text>
<line x1="1082.8" y1="1473.6" x2="1109.9" y2="1473.6" stroke="#ffc0cb" stroke-width="1.5"/>
<text x="1119" y="1479.6" font-family="'Liberation Sans',Arial,Helvetica,sans-serif" font-size="18.4" fill="#111" stroke="#111" stroke-width="0.25" textLength="69.4" lengthAdjust="spacingAndGlyphs">Sabocos</text>
<line x1="1082.8" y1="1497.6" x2="1109.9" y2="1497.6" stroke="#ffa500" stroke-width="1.8"/>
<text x="1119" y="1503.6" font-family="'Liberation Sans',Arial,Helvetica,sans-serif" font-size="18.4" fill="#111" stroke="#111" stroke-width="0.25" textLength="70.4" lengthAdjust="spacingAndGlyphs">Acherito</text>
<rect x="1794.9" y="1553.5" width="81.9" height="33.9" fill="none" stroke="#666" stroke-width="3.3"/>
<rect x="1270.2" y="1595.5" width="524" height="34.2" fill="none" stroke="#666" stroke-width="3.3"/>
<rect x="1875.4" y="1551.8" width="82.5" height="3.3" fill="url(#gr)"/>
<rect x="1875.4" y="1585.7" width="82.5" height="3.3" fill="url(#gr)"/>
<rect x="1875.4" y="1551.8" width="3.5999999999999996" height="37.2" fill="#1c1c1c"/>
<rect x="1831" y="1594" width="131.5" height="3.3" fill="url(#gl)"/>
<rect x="1831" y="1628.2" width="131.5" height="3.3" fill="url(#gl)"/>
<rect x="1958.9" y="1594" width="3.5999999999999996" height="37.5" fill="#1c1c1c"/>
<g font-family="'Liberation Sans',Arial,Helvetica,sans-serif" font-size="23" fill="#111" stroke="#111" stroke-width="0.4" text-anchor="middle" letter-spacing="0.4">
<text x="1835" y="1580.4">IR</text>
<text x="1918.4" y="1580.4">GA</text>
<text x="1526.3" y="1620.7">LIA</text>
<text x="1890.9" y="1620.7">GW</text>
</g>
<text x="1489" y="859" font-family="'Liberation Sans',Arial,Helvetica,sans-serif" font-weight="bold" font-size="35" fill="#000" stroke="#000" stroke-width="0.4" textLength="126.5" lengthAdjust="spacingAndGlyphs">TOC Flux</text>
</g>
</svg></body></html>
